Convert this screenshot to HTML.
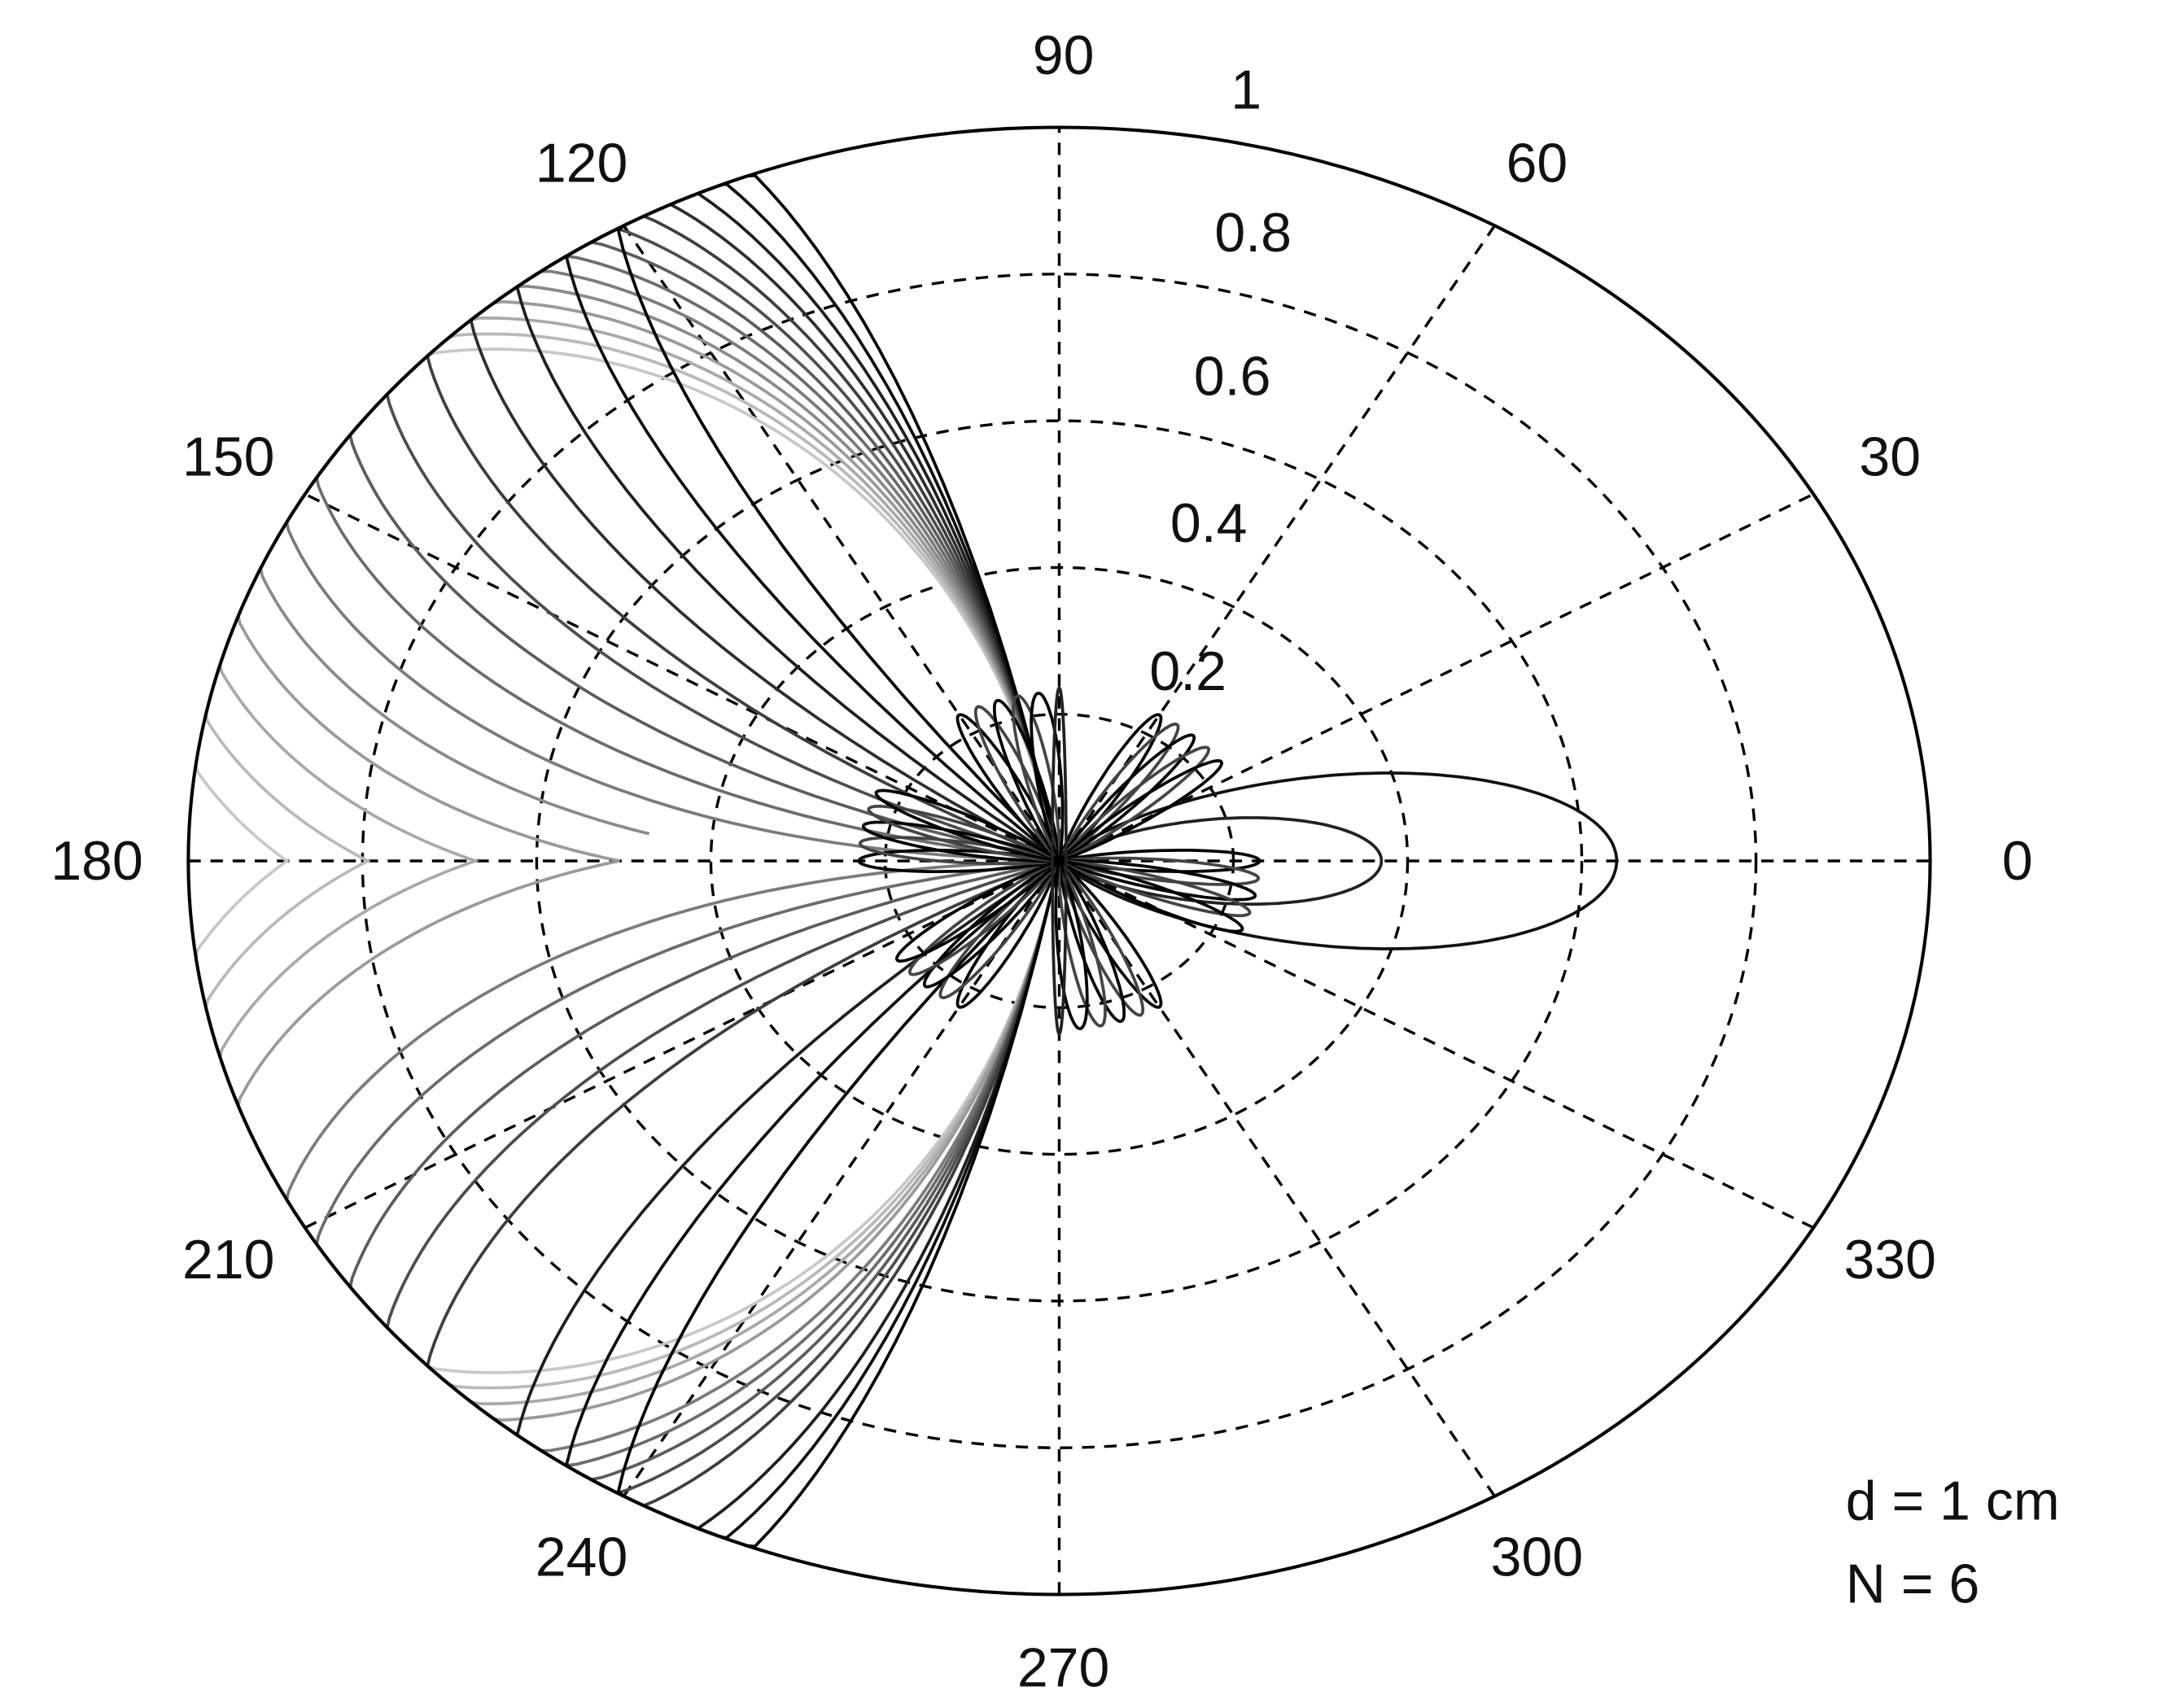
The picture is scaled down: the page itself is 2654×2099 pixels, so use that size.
<!DOCTYPE html>
<html><head><meta charset="utf-8"><style>
html,body{margin:0;padding:0;background:#fff;}
svg{display:block}
text{font-family:"Liberation Sans",Arial,sans-serif;font-size:40px;fill:#111}
</style></head><body>
<svg id="s" width="2654" height="2099" viewBox="0 0 1560 1234" preserveAspectRatio="none" xmlns="http://www.w3.org/2000/svg">
<g id="grid" fill="none" stroke="#000" stroke-width="2" stroke-dasharray="9,7"></g>
<g id="curves" fill="none" stroke-width="2.2"></g>
<ellipse cx="765" cy="622" rx="629" ry="530" fill="none" stroke="#000" stroke-width="2.4"/>
<g text-anchor="middle" dominant-baseline="central">
<text x="768" y="40">90</text>
<text x="900" y="65">1</text>
<text x="1110" y="118">60</text>
<text x="905" y="168">0.8</text>
<text x="890" y="272">0.6</text>
<text x="1365" y="330">30</text>
<text x="873" y="378">0.4</text>
<text x="858" y="485">0.2</text>
<text x="70" y="622">180</text>
<text x="1457" y="622">0</text>
<text x="165" y="330">150</text>
<text x="420" y="118">120</text>
<text x="165" y="910">210</text>
<text x="1365" y="910">330</text>
<text x="420" y="1125">240</text>
<text x="1110" y="1125">300</text>
<text x="768" y="1205">270</text>
</g>
<text x="1333" y="1098">d = 1 cm</text>
<text x="1333" y="1158">N = 6</text>
</svg>
<script>
var cx=765,cy=622,RX=629,RY=530,NS="http://www.w3.org/2000/svg";
var g=document.getElementById('grid'),c=document.getElementById('curves');
function el(p,t,a){var e=document.createElementNS(NS,t);for(var k in a)e.setAttribute(k,a[k]);p.appendChild(e);return e;}
for(var i=1;i<=4;i++)el(g,'ellipse',{cx:cx,cy:cy,rx:RX*i/5,ry:RY*i/5});
for(var a=0;a<180;a+=30){var t=a*Math.PI/180;
 el(g,'line',{x1:cx-RX*Math.cos(t),y1:cy+RY*Math.sin(t),x2:cx+RX*Math.cos(t),y2:cy-RY*Math.sin(t)});}
function pathFrom(f){var d='';for(var j=0;j<=720;j++){var th=j/2*Math.PI/180;var r=Math.min(1,Math.max(0,f(j/2)));
 var x=cx+RX*r*Math.cos(th),y=cy-RY*r*Math.sin(th);d+=(j?'L':'M')+x.toFixed(1)+','+y.toFixed(1);}return d;}
function lobe(th,phi,n,A){var d=(th-phi)*Math.PI/180;var cs=Math.cos(d);if(cs<=0)return 0;return A*Math.pow(cs,n);}
function arcl(th,a,b,A){if(th<a||th>b)return 0;return A*Math.pow(Math.sin(Math.PI*(th-a)/(b-a)),0.75);}
var N=14;
for(var k=0;k<N;k++){
 var a0=101,b0=208-k*6,A=1.12;
 var gr=Math.round(200-k*200/(N-1));
 (function(a0,b0,A){
 el(c,'path',{d:pathFrom(function(th){return Math.max(arcl(th,a0,b0,A),arcl(360-th,a0,b0,A));}),stroke:'rgb('+gr+','+gr+','+gr+')'});
 })(a0,b0,A);
}
el(c,'path',{d:pathFrom(function(th){return Math.max(lobe(th,0,10,0.64),lobe(th,360,10,0.64));}),stroke:'#111'});
el(c,'path',{d:pathFrom(function(th){return Math.max(lobe(th,0,14,0.37),lobe(th,360,14,0.37));}),stroke:'#222'});
for(var m=0;m<5;m++){(function(m){
 el(c,'path',{d:pathFrom(function(th){return 0.23*Math.pow(Math.abs(Math.cos((th+m*6)*Math.PI/180*3)),10);}),stroke:m%2?'#444':'#000'});
})(m);}
el(c,'ellipse',{cx:cx,cy:cy,rx:5,ry:125,stroke:'#222'});
</script>
</body></html>
